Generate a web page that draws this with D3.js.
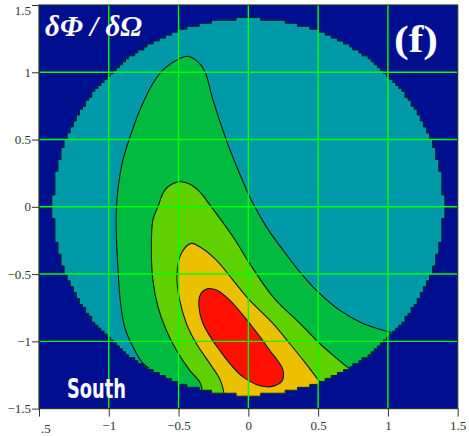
<!DOCTYPE html>
<html>
<head>
<meta charset="utf-8">
<script src="https://cdn.jsdelivr.net/npm/d3@7"></script>
<style>
  html, body { margin: 0; padding: 0; background: #ffffff; }
  svg { display: block; }
</style>
</head>
<body>
<svg id="chart" width="469" height="436"></svg>
<script>
// ---------------- data ----------------
const xTicks = [-1.5, -1, -0.5, 0, 0.5, 1, 1.5];
const yTicks = [-1.5, -1, -0.5, 0, 0.5, 1, 1.5];
const xTickLabels = ["\u22121.5", "\u22121", "\u22120.5", "0", "0.5", "1", "1.5"];
const yTickLabels = ["\u22121.5", "\u22121", "\u22120.5", "0", "0.5", "1", "1.5"];
const gridValues = [-1, -0.5, 0, 0.5, 1];

const diskRadius = 1.4;     // sky disk radius
const diskCell = 0.022;     // cell size of the pixelated disk edge

// contour levels (outer -> inner); open ones end on the disk edge
const contourGreen = [
  [-0.708,-1.201],[-0.756,-1.164],[-0.827,-1.041],[-0.887,-0.892],[-0.918,-0.694],
  [-0.935,-0.446],[-0.946,-0.198],[-0.946,-0.025],[-0.935,0.124],[-0.899,0.347],
  [-0.839,0.546],[-0.767,0.743],[-0.684,0.917],[-0.600,1.029],[-0.492,1.103],
  [-0.433,1.119],[-0.349,1.065],[-0.306,0.991],[-0.253,0.793],[-0.158,0.496],
  [-0.063,0.248],[0.021,0.050],[0.129,-0.149],[0.248,-0.322],[0.368,-0.483],
  [0.499,-0.632],[0.654,-0.768],[0.821,-0.867],[1.001,-0.929],[1.030,-0.940]
];
const contourLightGreen = [
  [-0.330,-1.360],[-0.349,-1.301],[-0.421,-1.214],[-0.516,-1.065],[-0.588,-0.917],
  [-0.648,-0.743],[-0.684,-0.545],[-0.695,-0.322],[-0.684,-0.099],[-0.648,0.000],
  [-0.612,0.100],[-0.576,0.149],[-0.492,0.186],[-0.421,0.169],[-0.349,0.112],
  [-0.280,0.020],[-0.110,-0.223],[0.009,-0.421],[0.176,-0.669],[0.368,-0.865],
  [0.511,-1.016],[0.606,-1.103],[0.738,-1.214],[0.760,-1.225]
];
const contourYellow = [
  [-0.170,-1.410],[-0.200,-1.290],[-0.277,-1.164],[-0.373,-1.016],[-0.444,-0.867],
  [-0.492,-0.694],[-0.512,-0.520],[-0.480,-0.346],[-0.409,-0.272],[-0.349,-0.297],
  [-0.229,-0.396],[-0.110,-0.545],[0.009,-0.694],[0.176,-0.867],[0.296,-1.016],
  [0.404,-1.155],[0.511,-1.301],[0.525,-1.320]
];
const contourRed = [
  [-0.295,-0.610],[-0.229,-0.619],[-0.134,-0.694],[0.009,-0.867],[0.153,-1.066],
  [0.248,-1.214],[0.237,-1.301],[0.129,-1.338],[-0.039,-1.264],[-0.206,-1.066],
  [-0.325,-0.867],[-0.354,-0.743],[-0.345,-0.655]
];

const colors = {
  background: "#000f90",
  disk: "#0099a8",
  green: "#00bb40",
  lightGreen: "#5fd000",
  yellow: "#eac000",
  red: "#ff1000",
  grid: "#00ff00"
};

// ---------------- layout ----------------
const svg = d3.select("#chart");
const x = d3.scaleLinear().domain([-1.5, 1.5]).range([39, 457.7]);
const y = d3.scaleLinear().domain([-1.5, 1.5]).range([408.6, 5]);

const defs = svg.append("defs");

// pixelated disk outline (cells of the underlying map)
function diskPath() {
  const p = d3.path();
  const rows = [];
  const n = Math.ceil(diskRadius / diskCell);
  for (let i = n - 1; i >= -n; i--) {
    const y0 = (i + 1) * diskCell, y1 = i * diskCell;
    const yc = (y0 + y1) / 2;
    if (Math.abs(yc) >= diskRadius) continue;
    const hw = Math.sqrt(diskRadius * diskRadius - yc * yc);
    const xr = Math.floor(hw / diskCell + 0.5) * diskCell;
    if (xr <= 0) continue;
    rows.push({ y0, y1, xr });
  }
  rows.forEach((r, k) => {
    if (k === 0) p.moveTo(x(-r.xr), y(r.y0));
    p.lineTo(x(r.xr), y(r.y0));
    p.lineTo(x(r.xr), y(r.y1));
  });
  for (let k = rows.length - 1; k >= 0; k--) {
    const r = rows[k];
    p.lineTo(x(-r.xr), y(r.y1));
    p.lineTo(x(-r.xr), y(r.y0));
  }
  p.closePath();
  return p.toString();
}
const diskD = diskPath();

defs.append("clipPath").attr("id", "diskClip").append("path").attr("d", diskD);
defs.append("clipPath").attr("id", "plotClip").append("rect")
  .attr("x", x(-1.5)).attr("y", y(1.5))
  .attr("width", x(1.5) - x(-1.5)).attr("height", y(-1.5) - y(1.5));
defs.append("clipPath").attr("id", "xLabelClip").append("rect")
  .attr("x", 40).attr("y", 400).attr("width", 469).attr("height", 36);

// plot background
svg.append("rect")
  .attr("x", x(-1.5)).attr("y", y(1.5))
  .attr("width", x(1.5) - x(-1.5)).attr("height", y(-1.5) - y(1.5))
  .attr("fill", colors.background);

// disk
svg.append("path").attr("d", diskD).attr("fill", colors.disk);

const line = d3.line().x(d => x(d[0])).y(d => y(d[1])).curve(d3.curveCatmullRom.alpha(0.5));
const closedLine = d3.line().x(d => x(d[0])).y(d => y(d[1])).curve(d3.curveCatmullRomClosed.alpha(0.5));

// close an open contour outside the disk (through the bottom)
function openFill(pts) {
  const s = pts[0], e = pts[pts.length - 1];
  const ae = Math.atan2(e[1], e[0]);
  const as = Math.atan2(s[1], s[0]);
  const R = 2.0;
  const outside = d3.range(0, 21).map(i => {
    const a = ae + (as - ae) * i / 20;
    return [R * Math.cos(a), R * Math.sin(a)];
  });
  let d = line(pts);
  outside.forEach(q => { d += "L" + x(q[0]) + "," + y(q[1]); });
  return d + "Z";
}

const fills = svg.append("g").attr("clip-path", "url(#diskClip)");
const levels = [
  { pts: contourGreen, color: colors.green, open: true },
  { pts: contourLightGreen, color: colors.lightGreen, open: true },
  { pts: contourYellow, color: colors.yellow, open: true },
  { pts: contourRed, color: colors.red, open: false }
];
fills.selectAll("path.fill").data(levels).join("path")
  .attr("class", "fill")
  .attr("d", d => d.open ? openFill(d.pts) : closedLine(d.pts))
  .attr("fill", d => d.color);

fills.selectAll("path.iso").data(levels).join("path")
  .attr("class", "iso")
  .attr("d", d => d.open ? line(d.pts) : closedLine(d.pts))
  .attr("fill", "none")
  .attr("stroke", "#0a1a0a")
  .attr("stroke-width", 1.1);

// disk edge outline
svg.append("path").attr("d", diskD)
  .attr("fill", "none").attr("stroke", "#03202a").attr("stroke-width", 1);

// grid
const grid = svg.append("g").attr("clip-path", "url(#plotClip)");
grid.selectAll("line.gx").data(gridValues).join("line")
  .attr("class", "gx")
  .attr("x1", d => x(d)).attr("x2", d => x(d))
  .attr("y1", y(1.5)).attr("y2", y(-1.5))
  .attr("stroke", colors.grid).attr("stroke-width", 1.4);
grid.selectAll("line.gy").data(gridValues).join("line")
  .attr("class", "gy")
  .attr("y1", d => y(d)).attr("y2", d => y(d))
  .attr("x1", x(-1.5)).attr("x2", x(1.5))
  .attr("stroke", colors.grid).attr("stroke-width", 1.4);

// frame
svg.append("rect")
  .attr("x", x(-1.5)).attr("y", y(1.5))
  .attr("width", x(1.5) - x(-1.5)).attr("height", y(-1.5) - y(1.5))
  .attr("fill", "none").attr("stroke", "#1d3a26").attr("stroke-width", 1.2);

// axes
const yAxis = d3.axisLeft(y).tickValues(yTicks).tickSize(7).tickPadding(1)
  .tickFormat((d, i) => yTickLabels[i]);
const gy = svg.append("g").attr("transform", `translate(${x(-1.5)},0)`).call(yAxis);
gy.select(".domain").remove();
gy.selectAll(".tick line").attr("stroke", "#333");
gy.selectAll(".tick text").attr("font-family", "'Liberation Serif', serif")
  .attr("font-size", 13).attr("fill", "#333")
  .attr("dy", d => d === 1.5 ? "0.75em" : "0.32em");

const xAxis = d3.axisBottom(x).tickValues(xTicks).tickSize(8).tickPadding(4)
  .tickFormat((d, i) => xTickLabels[i]);
const gx = svg.append("g").attr("transform", `translate(0,${y(-1.5)})`).call(xAxis);
gx.select(".domain").remove();
gx.selectAll(".tick line").attr("stroke", "#333");
gx.selectAll(".tick text").attr("font-family", "'Liberation Serif', serif")
  .attr("font-size", 13).attr("fill", "#333");
gx.selectAll(".tick").filter((d, i) => i === 0).select("text").remove();
svg.append("g").attr("clip-path", "url(#xLabelClip)")
  .append("text").attr("x", x(-1.5)).attr("y", y(-1.5) + 24)
  .attr("text-anchor", "middle")
  .attr("font-family", "'Liberation Serif', serif").attr("font-size", 13).attr("fill", "#333")
  .text(xTickLabels[0]);

// labels
svg.append("text").attr("x", 45).attr("y", 36)
  .attr("font-family", "'Liberation Serif', serif").attr("font-style", "italic")
  .attr("font-weight", "bold").attr("font-size", 29).attr("fill", "#ffffff")
  .attr("textLength", 97).attr("lengthAdjust", "spacingAndGlyphs")
  .text("\u03b4\u03a6 / \u03b4\u03a9");

svg.append("text").attr("x", 394).attr("y", 52)
  .attr("font-family", "'Liberation Serif', serif").attr("font-weight", "bold")
  .attr("font-size", 38).attr("fill", "#ffffff")
  .attr("textLength", 44).attr("lengthAdjust", "spacingAndGlyphs")
  .text("(f)");

svg.append("text").attr("x", 67).attr("y", 398)
  .attr("font-family", "'DejaVu Sans', sans-serif").attr("font-weight", "bold")
  .attr("font-size", 27).attr("fill", "#ffffff")
  .attr("textLength", 59).attr("lengthAdjust", "spacingAndGlyphs")
  .text("South");
</script>
</body>
</html>
